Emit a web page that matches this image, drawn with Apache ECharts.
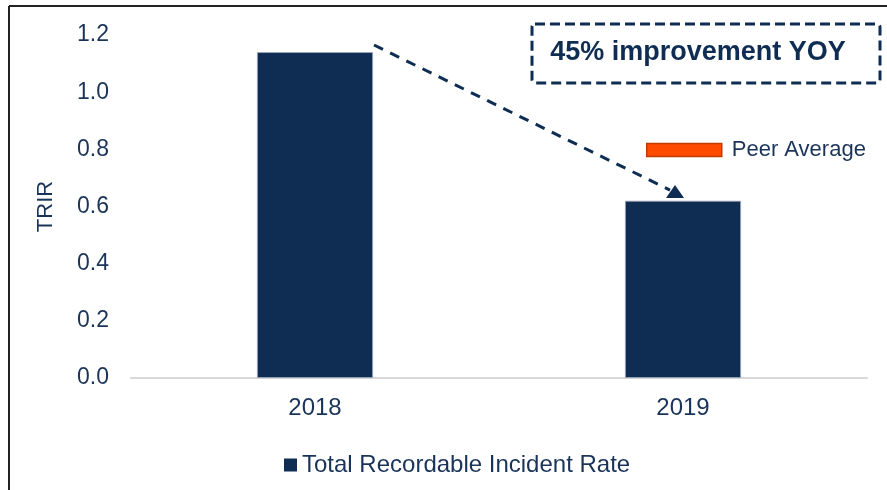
<!DOCTYPE html>
<html>
<head>
<meta charset="utf-8">
<script src="https://cdn.jsdelivr.net/npm/echarts@6/dist/echarts.min.js"></script>
<style>
  html, body { margin: 0; padding: 0; background: #fff; }
  #main { width: 887px; height: 490px; }
</style>
</head>
<body>
<div id="main"></div>
<script>
// data
const years = ['2018', '2019'];
const trirValues = [1.14, 0.62];
const seriesNames = ['Total Recordable Incident Rate', 'Peer Average'];
const callout = '45% improvement YOY';

const navy = '#0f2d52';
const textColor = '#1a3358';
const font = 'Liberation Sans, Arial, sans-serif';

const chart = echarts.init(document.getElementById('main'));

const option = {
    animation: false,
    textStyle: { fontFamily: font },
    grid: { left: 131, right: 20, top: 35, bottom: 112 },
    legend: [
        {
            data: [{ name: seriesNames[0], itemStyle: { borderWidth: 0 } }],
            left: 284,
            top: 453,
            padding: 0,
            icon: 'rect',
            itemWidth: 13,
            itemHeight: 13,
            itemGap: 5,
            textStyle: { color: textColor, fontSize: 24, fontFamily: font, padding: [0, 0, 0, 0] }
        },
        {
            data: [{ name: seriesNames[1], itemStyle: { borderColor: '#c23c00', borderWidth: 1.5 } }],
            left: 641,
            top: 134,
            icon: 'rect',
            itemWidth: 75,
            itemHeight: 13,
            textStyle: { color: textColor, fontSize: 22, fontFamily: font, padding: [0, 0, 0, 5] }
        }
    ],
    xAxis: {
        type: 'category',
        data: years,
        axisLine: { lineStyle: { color: '#d9d9d9', width: 2 } },
        axisTick: { show: false },
        axisLabel: { color: textColor, fontSize: 24, margin: 18, fontFamily: font }
    },
    yAxis: {
        type: 'value',
        min: 0,
        max: 1.2,
        interval: 0.2,
        name: 'TRIR',
        nameLocation: 'middle',
        nameRotate: 90,
        nameGap: 74,
        nameTextStyle: { color: textColor, fontSize: 22, fontFamily: font },
        splitLine: { show: false },
        axisLine: { show: false },
        axisTick: { show: false },
        axisLabel: {
            color: textColor, fontSize: 23, margin: 22, fontFamily: font,
            formatter: v => v.toFixed(1)
        }
    },
    series: [
        {
            name: seriesNames[0],
            type: 'bar',
            data: trirValues,
            barWidth: 116,
            itemStyle: { color: navy, borderColor: '#9aa8bb', borderWidth: 0.8 }
        },
        {
            name: seriesNames[1],
            type: 'line',
            data: [],
            itemStyle: { color: '#ff4b00' },
            lineStyle: { color: '#ff4b00' }
        }
    ]
};

chart.setOption(option);

// annotation: dashed arrow from the 2018 bar to the 2019 bar, and the callout box
const p0 = chart.convertToPixel({ seriesIndex: 0 }, [0, 1.165]);
const p1 = chart.convertToPixel({ seriesIndex: 0 }, [1, 0.675]);
const start = [p0[0] + 59, p0[1]];
const tip = [p1[0] - 8, p1[1]];

chart.setOption({
    graphic: [
        // outer frame (top and left edges only, as in the reference)
        { type: 'line', shape: { x1: 9, y1: 6, x2: 887, y2: 6 }, style: { stroke: '#222', lineWidth: 2 } },
        { type: 'line', shape: { x1: 9, y1: 6, x2: 9, y2: 490 }, style: { stroke: '#222', lineWidth: 2 } },
        {
            type: 'line',
            shape: { x1: start[0], y1: start[1], x2: tip[0] - 5, y2: tip[1] + 5 },
            style: { stroke: navy, lineWidth: 3, lineDash: [10, 8] }
        },
        {
            type: 'polygon',
            shape: { points: [[tip[0], tip[1]], [tip[0] - 9, tip[1] + 13], [tip[0] + 9, tip[1] + 13]] },
            style: { fill: navy }
        },
        {
            type: 'rect',
            shape: { x: 532, y: 24, width: 348, height: 59, r: 3 },
            style: { fill: '#fff', stroke: navy, lineWidth: 3, lineDash: [10, 5] }
        },
        {
            type: 'text',
            x: 698,
            y: 53,
            style: {
                text: callout,
                fill: navy,
                font: 'bold 27px ' + font,
                align: 'center',
                verticalAlign: 'middle'
            }
        }
    ]
});

window.addEventListener('resize', () => chart.resize());
</script>
</body>
</html>
